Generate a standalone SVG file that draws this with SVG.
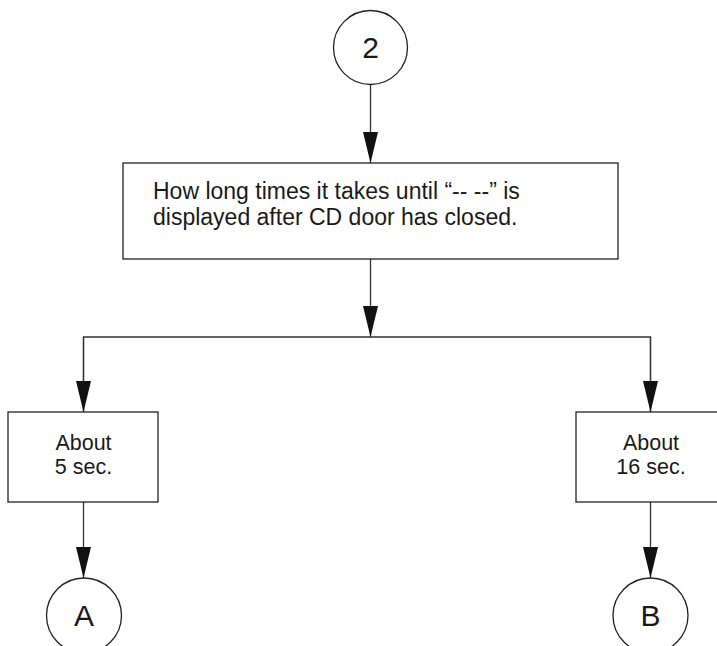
<svg xmlns="http://www.w3.org/2000/svg" width="717" height="646" viewBox="0 0 717 646">
<defs>
<style>
.box{fill:#fff;stroke:#222;stroke-width:1.3}
.ln{fill:none;stroke:#333;stroke-width:1.3}
.t{font-family:"Liberation Sans",Arial,sans-serif;font-size:21.5px;fill:#1a1a1a}
.c{text-anchor:middle}
.big{font-size:30px}
.q{font-size:23px}
</style>
<marker id="ah" markerUnits="userSpaceOnUse" viewBox="0 0 31 15" refX="31" refY="7.5" markerWidth="31" markerHeight="15" orient="auto">
<path d="M0,0 L31,7.5 L0,15 Z" fill="#111"/>
</marker>
</defs>
<rect width="717" height="646" fill="#fff"/>
<g id="connectors">
<line class="ln" x1="370.5" y1="84.5" x2="370.5" y2="163" marker-end="url(#ah)"/>
<line class="ln" x1="370.5" y1="259" x2="370.5" y2="337" marker-end="url(#ah)"/>
<polyline class="ln" points="83.5,412 83.5,337 650.5,337 650.5,412"/>
<line class="ln" x1="83.5" y1="337" x2="83.5" y2="412" marker-end="url(#ah)"/>
<line class="ln" x1="650.5" y1="337" x2="650.5" y2="412" marker-end="url(#ah)"/>
<line class="ln" x1="83.5" y1="502" x2="83.5" y2="578" marker-end="url(#ah)"/>
<line class="ln" x1="650.5" y1="502" x2="650.5" y2="578" marker-end="url(#ah)"/>
</g>
<g id="node-2">
<circle class="box" cx="370.5" cy="47.5" r="37"/>
<text class="t c big" x="370.5" y="58">2</text>
</g>
<g id="node-question">
<rect class="box" x="123" y="163" width="495" height="96"/>
<text class="t q" x="153" y="199">How long times it takes until “-- --” is</text>
<text class="t q" x="153" y="225">displayed after CD door has closed.</text>
</g>
<g id="node-5sec">
<rect class="box" x="8" y="412" width="150" height="90"/>
<text class="t c" x="83.5" y="450">About</text>
<text class="t c" x="83.5" y="474">5 sec.</text>
</g>
<g id="node-16sec">
<rect class="box" x="576" y="412" width="150" height="90"/>
<text class="t c" x="651" y="450">About</text>
<text class="t c" x="651" y="474">16 sec.</text>
</g>
<g id="node-A">
<circle class="box" cx="84" cy="615.5" r="37.5"/>
<text class="t c big" x="84" y="626">A</text>
</g>
<g id="node-B">
<circle class="box" cx="650.5" cy="615.5" r="37.5"/>
<text class="t c big" x="650.5" y="626">B</text>
</g>
</svg>
